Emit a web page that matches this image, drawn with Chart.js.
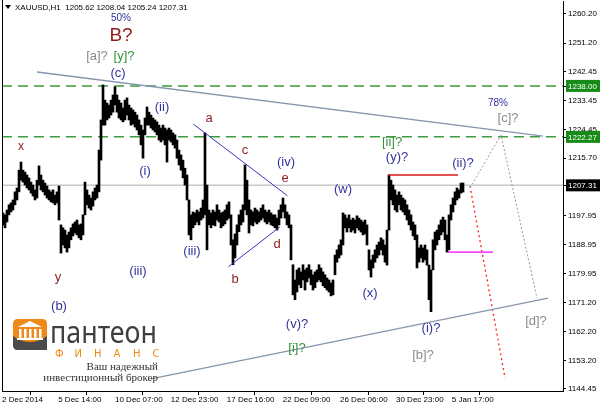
<!DOCTYPE html>
<html><head><meta charset="utf-8">
<script src="https://cdn.jsdelivr.net/npm/chart.js@4/dist/chart.umd.min.js"></script>
<style>html,body{margin:0;padding:0;background:#fff;overflow:hidden}#wrap{width:600px;height:408px;position:relative}</style>
</head><body><div id="wrap"><canvas id="c" width="600" height="408"></canvas></div>
<script>
// ---- data (H1 bars, each entry = [low, high]) ----
const symbolTitle = 'XAUUSD,H1';
const ohlcLast = [1205.62, 1208.04, 1205.24, 1207.31];
const hlRanges = [
[1195.1,1198.8],[1194.2,1198.2],[1196.0,1199.7],[1198.2,1201.3],[1199.1,1201.9],[1199.7,1202.8],[1201.3,1205.3],[1202.8,1206.5],[1205.3,1212.0],[1208.9,1214.5],
[1208.3,1212.0],[1207.4,1211.4],[1206.5,1210.5],[1205.9,1209.6],[1204.9,1208.3],[1204.0,1207.4],[1202.8,1205.9],[1203.4,1208.9],[1207.4,1213.3],[1205.9,1210.5],
[1205.3,1208.9],[1204.3,1208.0],[1203.4,1207.1],[1202.8,1205.9],[1202.2,1205.3],[1201.9,1205.9],[1201.3,1204.3],[1201.9,1205.3],[1196.6,1207.1],[1186.4,1195.1],
[1188.9,1194.2],[1188.0,1193.5],[1186.7,1192.0],[1188.0,1192.9],[1190.5,1194.2],[1191.7,1195.4],[1192.6,1196.0],[1192.0,1196.6],[1191.1,1195.1],[1190.5,1195.4],
[1192.0,1198.2],[1198.2,1208.3],[1201.3,1205.9],[1200.3,1204.3],[1199.7,1203.4],[1200.9,1205.3],[1202.8,1206.5],[1203.4,1207.4],[1205.3,1218.2],[1215.1,1227.5],
[1225.9,1238.3],[1225.9,1233.6],[1227.5,1232.7],[1228.1,1232.1],[1229.0,1233.6],[1229.9,1235.2],[1232.1,1237.7],[1229.9,1235.2],[1228.1,1233.6],[1227.5,1232.7],
[1226.9,1231.2],[1227.5,1233.6],[1229.0,1234.3],[1227.5,1232.1],[1225.9,1231.2],[1226.2,1230.6],[1225.3,1229.9],[1224.4,1229.0],[1222.9,1227.5],[1219.8,1225.9],
[1215.7,1224.4],[1222.9,1228.1],[1225.9,1231.5],[1225.9,1229.9],[1225.0,1229.0],[1224.4,1228.1],[1223.8,1227.5],[1222.9,1226.9],[1221.3,1225.9],[1220.7,1225.0],
[1221.3,1225.9],[1219.8,1225.0],[1214.5,1224.4],[1221.3,1225.0],[1220.7,1224.4],[1219.8,1223.5],[1218.8,1222.9],[1215.7,1221.3],[1213.6,1218.2],[1212.0,1216.7],
[1209.6,1215.1],[1207.4,1212.6],[1202.8,1210.5],[1192.0,1202.8],[1190.5,1198.2],[1194.2,1199.1],[1195.1,1198.8],[1196.0,1199.7],[1195.1,1199.1],[1196.6,1200.3],
[1197.2,1202.8],[1198.2,1223.5],[1187.4,1207.4],[1195.1,1199.7],[1194.2,1198.8],[1195.1,1199.7],[1194.8,1199.1],[1196.6,1201.3],[1196.0,1199.7],[1194.2,1198.8],
[1194.8,1199.1],[1195.4,1199.7],[1196.6,1201.3],[1197.2,1202.2],[1188.9,1198.2],[1182.8,1190.5],[1184.9,1192.3],[1188.9,1195.1],[1193.0,1198.2],[1195.1,1199.7],
[1196.0,1201.3],[1199.7,1213.6],[1198.2,1208.9],[1192.6,1202.8],[1195.1,1199.7],[1194.8,1199.1],[1196.0,1200.3],[1195.4,1199.7],[1196.0,1199.1],[1196.6,1200.3],
[1197.2,1201.3],[1196.0,1199.7],[1195.4,1199.1],[1196.0,1199.7],[1195.1,1198.8],[1194.8,1198.2],[1194.2,1198.2],[1193.5,1197.2],[1195.1,1199.7],[1197.2,1201.3],
[1199.1,1203.4],[1197.2,1201.3],[1195.1,1199.1],[1194.2,1198.2],[1184.3,1195.1],[1173.5,1182.8],[1172.0,1178.1],[1174.4,1181.2],[1176.6,1181.8],[1175.7,1180.6],
[1178.1,1182.8],[1175.0,1181.2],[1177.5,1181.8],[1178.7,1182.8],[1176.6,1181.2],[1175.0,1179.7],[1175.7,1180.6],[1177.5,1181.2],[1178.1,1182.8],[1177.5,1181.8],
[1176.3,1180.6],[1175.7,1179.7],[1175.0,1178.7],[1174.4,1178.1],[1173.2,1177.2],[1173.5,1178.1],[1179.7,1185.8],[1183.6,1187.4],[1184.9,1188.9],[1185.8,1190.5],
[1188.9,1198.8],[1194.2,1198.2],[1192.9,1197.2],[1194.2,1198.2],[1192.9,1196.6],[1193.5,1197.2],[1192.6,1196.6],[1194.2,1197.9],[1193.5,1197.2],[1192.9,1196.6],
[1192.0,1196.0],[1192.3,1196.6],[1188.9,1195.1],[1181.2,1187.4],[1179.0,1184.3],[1181.8,1185.8],[1183.6,1187.4],[1184.9,1188.9],[1185.8,1189.8],[1187.4,1191.1],
[1185.8,1190.5],[1183.6,1188.9],[1182.7,1193.5],[1193.5,1210.5],[1202.8,1208.9],[1201.3,1207.4],[1199.7,1205.9],[1199.1,1204.3],[1201.3,1205.3],[1199.7,1204.3],
[1199.1,1203.4],[1198.2,1202.8],[1196.6,1201.3],[1195.1,1199.7],[1193.5,1198.2],[1191.7,1196.0],[1190.5,1195.1],[1181.8,1192.0],[1183.6,1188.0],[1184.9,1188.9],
[1183.6,1188.0],[1184.3,1188.9],[1182.7,1187.4],[1172.0,1182.7],[1168.3,1181.2],[1181.2,1190.5],[1187.4,1192.9],[1188.9,1193.5],[1190.5,1195.1],[1192.0,1196.6],
[1192.9,1197.5],[1190.5,1196.6],[1186.7,1192.0],[1187.4,1198.2],[1196.6,1201.3],[1199.1,1203.4],[1201.3,1205.3],[1202.8,1206.5],[1203.4,1205.9],[1204.9,1208.0],
[1205.24,1208.04]
];
const timeTickPos = [-0.5, 27.6, 56, 83.9, 111.9, 139.9, 168.5, 196.5, 224.4];
const timeTickLabels = ['2 Dec 2014','5 Dec 14:00','10 Dec 07:00','12 Dec 23:00','17 Dec 16:00','22 Dec 09:00','26 Dec 06:00','30 Dec 23:00','5 Jan 17:00'];
const priceTicks = [1260.20,1251.20,1242.45,1233.45,1224.45,1215.70,1197.95,1188.95,1179.95,1171.20,1162.20,1153.20,1144.45];
const currentPrice = 1207.31;
const levelHigh = 1238.00;
const levelLow = 1222.27;
const upperTrend = [{x:17,y:1242.3},{x:270,y:1222.5}];
const lowerTrend = [{x:74,y:1147.6},{x:272.5,y:1172.5}];
const triUpper = [{x:95.2,y:1226.2},{x:142.2,y:1204.1}];
const triLower = [{x:112.7,y:1182.2},{x:138.5,y:1194.5}];
const yTopLine = [{x:192.5,y:1210.5},{x:227.5,y:1210.5}];
const stopLine = [{x:222.5,y:1186.7},{x:245,y:1186.7}];
const forecastAlt = [{x:233.5,y:1206.5},{x:249,y:1222.9},{x:267,y:1172.5}];
const forecastMain = [{x:233.5,y:1207.1},{x:251,y:1147.8}];
// wave labels: text, bar index, price, colour key, size
const waveLabels = [
['50%',59,1259.0,'blue',10],['B?',59,1253.4,'red',19],['[a]?',47,1247.2,'gray',13],['[y]?',60.5,1247.2,'green',13],
['(c)',57.5,1242.0,'blue',13],['x',9,1219.1,'red',12],['(ii)',79.5,1231.5,'blue',13],['(i)',71,1211.7,'blue',13],
['a',103,1228.1,'red',13],['c',121,1218.2,'red',13],['(iv)',141.5,1214.5,'blue',13],['e',141,1209.6,'red',13],
['d',137,1189.2,'red',13],['b',116,1178.4,'red',13],['(iii)',94.5,1187.0,'blue',13],['(iii)',67.5,1180.6,'blue',13],
['y',27.5,1179.0,'red',13],['(b)',28,1169.8,'blue',13],['(w)',170,1205.9,'blue',13],['(x)',183.5,1174.1,'blue',13],
['(y)?',197,1215.8,'blue',13],['[ii]?',194.5,1220.7,'green',13],['(ii)?',230,1214.2,'blue',13],['78%',247.5,1232.7,'blue',10],
['[c]?',252.5,1228.1,'gray',13],['(v)?',147,1164.5,'blue',13],['[i]?',147,1157.1,'green',13],['(i)?',214,1163.3,'blue',13],
['[b]?',210,1154.9,'gray',13],['[d]?',266.5,1165.4,'gray',13]
];
const labelColors = {blue:'#32329c', red:'#8e1b1b', green:'#3a913a', gray:'#8c8c8c'};

const X_MIN = -0.5, X_MAX = 280;
const FONT = '"Liberation Sans", Arial, sans-serif';

function lineDs(data, color, width, dash, order){
  return {type:'line', data, borderColor:color, borderWidth:width, borderDash:dash||[], pointRadius:0, fill:false, tension:0, order: order===undefined?0:order};
}

const annot = {
  id:'annot',
  beforeDraw(chart){
    const c = chart.ctx; c.save(); c.fillStyle='#fff'; c.fillRect(0,0,chart.width,chart.height); c.restore();
  },
  afterDatasetsDraw(chart){
    const c = chart.ctx, xs = chart.scales.x, ys = chart.scales.y, a = chart.chartArea;
    c.save();
    c.strokeStyle='#000'; c.lineWidth=1;
    c.beginPath(); c.moveTo(a.left+0.5, 0); c.lineTo(a.left+0.5, a.bottom); c.stroke();
    c.textAlign='center'; c.textBaseline='middle';
    waveLabels.forEach(([t,ix,p,col,sz])=>{
      c.font = sz+'px '+FONT;
      c.fillStyle = labelColors[col];
      c.fillText(t, xs.getPixelForValue(ix), ys.getPixelForValue(p));
    });
    c.textAlign='left'; c.font='8px '+FONT; c.fillStyle='#000';
    c.beginPath(); c.moveTo(5,5); c.lineTo(11,5); c.lineTo(8,9); c.closePath(); c.fill();
    c.fillText(symbolTitle+'  '+ohlcLast.map(v=>v.toFixed(2)).join(' '), 15, 7.5);
    const box=(v,bg)=>{
      const y=ys.getPixelForValue(v);
      c.fillStyle=bg; c.fillRect(a.right+3, y-6, 34, 12);
      c.fillStyle='#fff'; c.font='8px '+FONT; c.textBaseline='middle'; c.textAlign='left';
      c.fillText(v.toFixed(2), a.right+5, y+0.5);
      c.strokeStyle='#000'; c.beginPath(); c.moveTo(a.right, Math.round(y)+0.5); c.lineTo(a.right+3, Math.round(y)+0.5); c.stroke();
    };
    box(levelHigh,'#168c16'); box(levelLow,'#168c16'); box(currentPrice,'#000');
    drawLogo(c);
    c.restore();
  }
};

function drawLogo(c){
  c.save();
  c.fillStyle='#f0891a';
  c.beginPath(); c.moveTo(18,319); c.lineTo(42,319); c.quadraticCurveTo(47,319,47,324); c.lineTo(47,350); c.lineTo(18,350); c.quadraticCurveTo(13,350,13,345); c.lineTo(13,324); c.quadraticCurveTo(13,319,18,319); c.fill();
  c.fillStyle='#4b4b4b';
  c.beginPath(); c.moveTo(13,336); c.quadraticCurveTo(30,348,47,336); c.lineTo(47,350); c.lineTo(18,350); c.quadraticCurveTo(13,350,13,345); c.closePath(); c.fill();
  c.fillStyle='#fff';
  c.beginPath(); c.moveTo(18,327); c.lineTo(30,321); c.lineTo(42,327); c.closePath(); c.fill();
  for(let i=0;i<5;i++){ c.fillRect(19+i*5,329,2.5,9); }
  c.fillRect(17,338,26,2);
  c.fillStyle='#3f3f3f'; c.textBaseline='alphabetic'; c.textAlign='left';
  c.font='31px "Noto Sans", sans-serif';
  const w=c.measureText('пантеон').width;
  c.save(); c.translate(50,343); c.scale(107/w,1); c.fillText('пантеон',0,0); c.restore();
  c.fillStyle='#f0891a'; c.font='10px "DejaVu Sans", sans-serif';
  'ФИНАНС'.split('').forEach((L,i)=>c.fillText(L, 55+i*19.5, 357));
  c.fillStyle='#333'; c.textAlign='right'; c.font='11px "Liberation Serif", serif';
  c.fillText('Ваш надежный', 158, 370);
  c.fillText('инвестиционный брокер', 158, 381);
  c.restore();
}

new Chart(document.getElementById('c'), {
  type:'bar',
  data:{datasets:[
    {type:'bar', data: hlRanges.map((r,i)=>({x:i,y:r})), backgroundColor:'#000', borderWidth:0, barThickness:2, grouped:false, order:1},
    lineDs([{x:X_MIN,y:currentPrice},{x:X_MAX,y:currentPrice}], '#c8c8c8', 1.5, [], 3),
    lineDs([{x:X_MIN,y:levelHigh},{x:X_MAX,y:levelHigh}], '#3d9c3d', 1.5, [10,6], 2),
    lineDs([{x:X_MIN,y:levelLow},{x:X_MAX,y:levelLow}], '#3d9c3d', 1.5, [10,6], 2),
    lineDs(upperTrend, '#8796ad', 1.3),
    lineDs(lowerTrend, '#8796ad', 1.3),
    lineDs(triUpper, '#3535c0', 1),
    lineDs(triLower, '#3535c0', 1),
    lineDs(yTopLine, '#d81818', 1.3),
    lineDs(stopLine, '#ff00ff', 1.3),
    lineDs(forecastAlt, '#9a9a9a', 1, [2,2]),
    lineDs(forecastMain, '#ff2020', 1.3, [2,3])
  ]},
  options:{
    responsive:false, animation:false, devicePixelRatio:1,
    layout:{padding:{left:2,top:1,right:0,bottom:0}},
    plugins:{legend:{display:false}, tooltip:{enabled:false}},
    scales:{
      x:{type:'linear', min:X_MIN, max:X_MAX, offset:false,
        grid:{display:true, drawOnChartArea:false, drawTicks:true, tickLength:4, color:'#000'},
        border:{display:true, color:'#000'},
        afterBuildTicks:s=>{s.ticks = timeTickPos.map(v=>({value:v}));},
        afterFit:s=>{s.height=17; s.paddingLeft=0; s.paddingRight=0;},
        ticks:{align:'start', padding:0, maxRotation:0, autoSkip:false, color:'#000', font:{family:FONT,size:8},
          callback:(v,i)=>timeTickLabels[i]}
      },
      y:{type:'linear', position:'right', min:1143.83, max:1264.21,
        grid:{display:true, drawOnChartArea:false, drawTicks:true, tickLength:3, color:'#000'},
        border:{display:true, color:'#000'},
        afterBuildTicks:s=>{s.ticks = priceTicks.map(v=>({value:v}));},
        afterFit:s=>{s.width=37; s.paddingTop=0; s.paddingBottom=0;},
        ticks:{padding:2, autoSkip:false, color:'#000', font:{family:FONT,size:8}, callback:v=>Number(v).toFixed(2)}
      }
    }
  },
  plugins:[annot]
});
</script></body></html>
